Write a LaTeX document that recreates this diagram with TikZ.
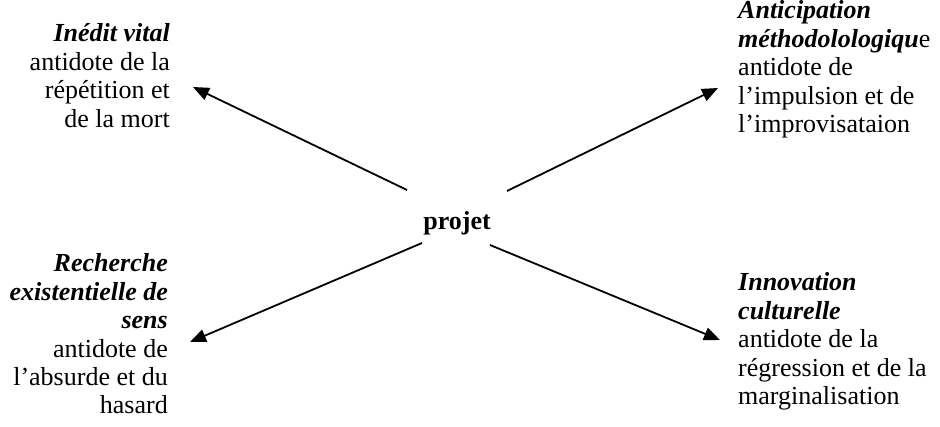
\documentclass[tikz,border=0pt]{standalone}
\usepackage{fontspec}
\setmainfont{Liberation Serif}
\usetikzlibrary{arrows.meta}
\begin{document}
\begin{tikzpicture}[x=1pt,y=-1pt,
  txt/.style={inner sep=0pt,font=\fontsize{26}{28.4}\selectfont},
  conn/.style={line width=1.8pt,-{Triangle[length=16pt,width=13pt]}}]
\useasboundingbox (0,0) rectangle (940,427);
\node[txt,anchor=base east] (tl) at (170,42) {\begin{tabular}[t]{@{}r@{}}\textbf{\textit{Inédit vital}}\\antidote de la\\répétition et\\de la mort\end{tabular}};
\node[txt,anchor=base west] (tr) at (738,19) {\begin{tabular}[t]{@{}l@{}}\textbf{\textit{Anticipation}}\\\textbf{\textit{méthodolologiqu}}e\\antidote de\\l’impulsion et de\\l’improvisataion\end{tabular}};
\node[txt,anchor=base east] (bl) at (168,272) {\begin{tabular}[t]{@{}r@{}}\textbf{\textit{Recherche}}\\\textbf{\textit{existentielle de}}\\\textbf{\textit{sens}}\\antidote de\\l’absurde et du\\hasard\end{tabular}};
\node[txt,anchor=base west] (br) at (738,291) {\begin{tabular}[t]{@{}l@{}}\textbf{\textit{Innovation}}\\\textbf{\textit{culturelle}}\\antidote de la\\régression et de la\\marginalisation\end{tabular}};
\node[txt,anchor=base] (p) at (457,230) {\textbf{projet}};
\coordinate (a1) at (407,190); \coordinate (h1) at (193,87);
\coordinate (a2) at (507,191); \coordinate (h2) at (718,88);
\coordinate (a3) at (422,243); \coordinate (h3) at (190,342);
\coordinate (a4) at (490,245); \coordinate (h4) at (720,340);
\draw[conn] (a1) -- (h1);
\draw[conn] (a2) -- (h2);
\draw[conn] (a3) -- (h3);
\draw[conn] (a4) -- (h4);
\end{tikzpicture}
\end{document}
